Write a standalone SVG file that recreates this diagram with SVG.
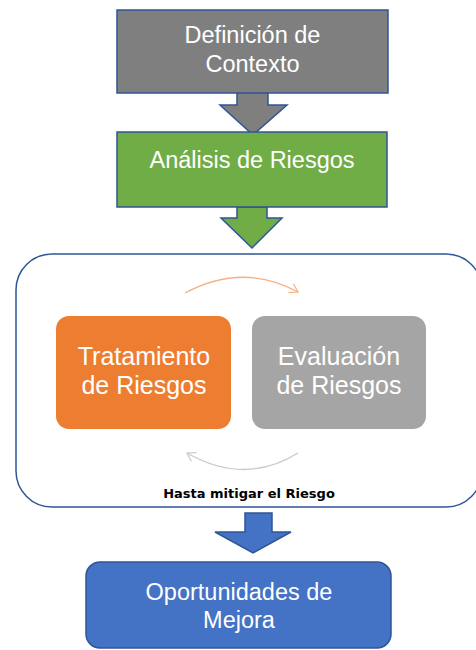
<svg xmlns="http://www.w3.org/2000/svg" width="476" height="650" viewBox="0 0 476 650">
<style>
.t{font-family:"Liberation Sans",Arial,sans-serif;fill:#fff;text-anchor:middle}
.m{font-size:23.5px}
.l{font-size:25px}
.edge{stroke:#2F5597;stroke-width:1.5}
</style>
<defs>
<marker id="ao" markerWidth="12" markerHeight="12" refX="9" refY="6" orient="auto" markerUnits="userSpaceOnUse">
<path d="M1,1 L9,6 L1,11" fill="none" stroke="#F4B183" stroke-width="1.2"/>
</marker>
<marker id="ag" markerWidth="12" markerHeight="12" refX="9" refY="6" orient="auto" markerUnits="userSpaceOnUse">
<path d="M1,1 L9,6 L1,11" fill="none" stroke="#C9C9C9" stroke-width="1.2"/>
</marker>
</defs>
<g id="container">
<rect x="16" y="254" width="466" height="253" rx="36" fill="#fff" stroke="#2F5597" stroke-width="1.5"/>
<text x="249" y="498" style="font-family:'DejaVu Sans',Verdana,sans-serif;font-weight:bold;font-size:13px;fill:#000;text-anchor:middle">Hasta mitigar el Riesgo</text>
</g>
<g id="connectors">
<polygon class="edge" fill="#7F7F7F" points="237,92 268,92 268,105 287,105 253,135 220,105 237,105"/>
<polygon class="edge" fill="#70AD47" points="237,207 267,207 267,218 282,218 252,248 221,218 237,218"/>
<polygon class="edge" fill="#4472C4" points="245,513 272,513 272,532 291,532 253,553 215,532 245,532"/>
<path d="M185,293 Q243,262 298,292" fill="none" stroke="#F4B183" stroke-width="1.3" marker-end="url(#ao)"/>
<path d="M298,453 Q245,486 187,453" fill="none" stroke="#C9C9C9" stroke-width="1.3" marker-end="url(#ag)"/>
</g>
<g id="definicion">
<rect x="117" y="10" width="271" height="83" fill="#7F7F7F" stroke="#2F5597" stroke-width="1.5"/>
<text class="t m" x="252.5" y="43">Definición de</text>
<text class="t m" x="252.5" y="72">Contexto</text>
</g>
<g id="analisis">
<rect x="117" y="132" width="270" height="75" fill="#70AD47" stroke="#2F5597" stroke-width="1.5"/>
<text class="t m" x="252" y="168">Análisis de Riesgos</text>
</g>
<g id="tratamiento">
<rect x="56" y="316" width="175" height="113" rx="13" fill="#ED7D31"/>
<text class="t l" x="144" y="365">Tratamiento</text>
<text class="t l" x="144" y="394">de Riesgos</text>
</g>
<g id="evaluacion">
<rect x="252" y="316" width="174" height="113" rx="13" fill="#A5A5A5"/>
<text class="t l" x="339" y="365">Evaluación</text>
<text class="t l" x="339" y="394">de Riesgos</text>
</g>
<g id="oportunidades">
<rect x="86" y="562" width="305" height="86" rx="14" fill="#4472C4" stroke="#2F5597" stroke-width="1.5"/>
<text class="t m" x="239" y="600">Oportunidades de</text>
<text class="t m" x="239" y="628">Mejora</text>
</g>
</svg>
